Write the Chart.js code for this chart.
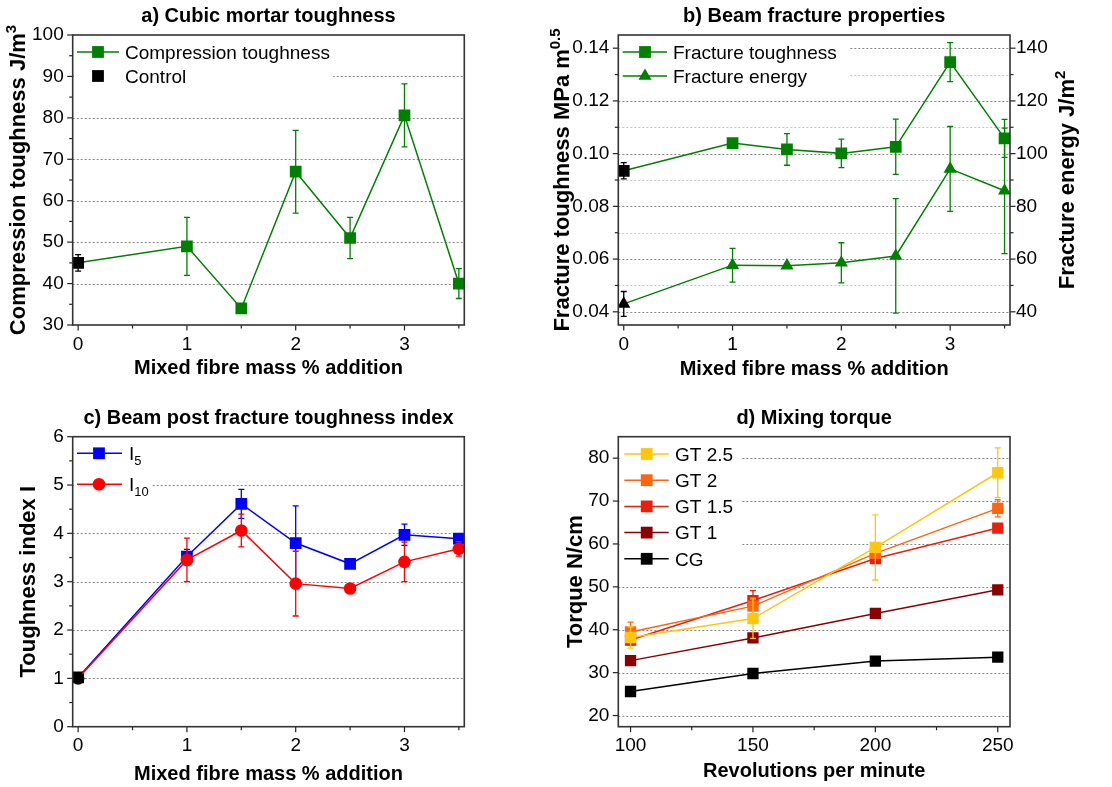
<!DOCTYPE html>
<html>
<head>
<meta charset="utf-8">
<script src="https://cdn.jsdelivr.net/npm/chart.js@4/dist/chart.umd.min.js"></script>
<style>
  body { margin: 0; background: #fff; }
  canvas { position: absolute; left: 0; top: 0; }
</style>
</head>
<body>
<canvas id="chartA" width="1112" height="787"></canvas>
<canvas id="chartB" width="1112" height="787"></canvas>
<canvas id="chartC" width="1112" height="787"></canvas>
<canvas id="chartD" width="1112" height="787"></canvas>
<script>
// ---- data ----
const fibreX = [0, 1, 1.5, 2, 2.5, 3, 3.5]; // mixed fibre mass %, 0 = control

// a) cubic mortar
const compToughness = [45, 49, 34, 67, 51, 80.6, 40];
const compErr = [2, 7, 0, 10, 5, 7.6, 3.6];

// b) beam fracture
const fracToughness = [0.0935, 0.104, 0.1016, 0.1001, 0.1026, 0.1347, 0.1058];
const fracToughErr = [0.0031, 0, 0.006, 0.0054, 0.0105, 0.0074, 0.0072];
const fracEnergy = [43, 57.7, 57.5, 58.6, 61.2, 94.2, 85.9];
const fracEnergyErr = [4.7, 6.4, 0, 7.6, 21.7, 16.1, 23.8];

// c) toughness index
const indexI5 = [1.02, 3.52, 4.61, 3.8, 3.37, 3.97, 3.89];
const indexI5Err = [0.05, 0.15, 0.3, 0.77, 0.07, 0.22, 0.1];
const indexI10 = [1.0, 3.45, 4.06, 2.96, 2.86, 3.41, 3.68];
const indexI10Err = [0.05, 0.45, 0.34, 0.67, 0.1, 0.41, 0.15];

// d) mixing torque
const rpm = [100, 150, 200, 250];
const torqueGT25 = [38.2, 42.6, 59.2, 76.6];
const torqueGT25Err = [2.5, 4.6, 7.6, 5.8];
const torqueGT2 = [39.5, 45.5, 57.8, 68.3];
const torqueGT2Err = [2.3, 2, 1, 2];
const torqueGT15 = [37.6, 46.8, 56.6, 63.7];
const torqueGT15Err = [1.2, 2.3, 1, 0.6];
const torqueGT1 = [32.8, 38.1, 43.8, 49.3];
const torqueGT1Err = [0.8, 0.8, 0.5, 0.5];
const torqueCG = [25.6, 29.8, 32.7, 33.6];
const torqueCGErr = [0, 0, 0, 0];

// ticks
const fibreTicks = [0, 1, 2, 3];
const fibreMinor = [0.5, 1.5, 2.5, 3.5];
const aTicks = [30, 40, 50, 60, 70, 80, 90, 100];
const aMinor = [35, 45, 55, 65, 75, 85, 95];
const bTicks = [0.04, 0.06, 0.08, 0.10, 0.12, 0.14];
const bMinor = [0.05, 0.07, 0.09, 0.11, 0.13];
const bRightTicks = [40, 60, 80, 100, 120, 140];
const bRightMinor = [50, 70, 90, 110, 130];
const cTicks = [0, 1, 2, 3, 4, 5, 6];
const cMinor = [0.5, 1.5, 2.5, 3.5, 4.5, 5.5];
const dTicks = [20, 30, 40, 50, 60, 70, 80];
const rpmTicks = [100, 150, 200, 250];
const rpmMinor = [125, 175, 225];

const FONT = '"Liberation Sans", Arial, sans-serif';
const GREEN = '#008000';
const GRID = '#8a8a8a';
const GRID_LIGHT = '#c4c4c4';
const TRI_R = 7.6;

const pts = (xs, ys) => xs.map((x, i) => ({x: x, y: ys[i]}));
const firstBlack = (n, c) => Array.from({length: n}, (_, i) => i === 0 ? '#000' : c);

// ---- drawing helpers ----
function drawRich(ctx, segs, x, y, size, bold, align) {
  const f = s => (bold ? 'bold ' : '') + s + 'px ' + FONT;
  let w = 0;
  segs.forEach(s => { ctx.font = f(s[1] ? size * 0.68 : size); w += ctx.measureText(s[0]).width; });
  let cx = align === 'left' ? x : x - w / 2;
  ctx.textAlign = 'left';
  ctx.textBaseline = 'alphabetic';
  ctx.fillStyle = '#000';
  segs.forEach(s => {
    const sz = s[1] ? size * 0.68 : size;
    ctx.font = f(sz);
    let dy = size * 0.36;
    if (s[1] === 'sup') dy -= size * 0.42;
    if (s[1] === 'sub') dy += size * 0.25;
    ctx.fillText(s[0], cx, y + dy);
    cx += ctx.measureText(s[0]).width;
  });
}

function marker(ctx, style, x, y, color) {
  ctx.fillStyle = color;
  ctx.beginPath();
  if (style === 'rect') {
    ctx.rect(x - 5.9, y - 5.9, 11.8, 11.8);
  } else if (style === 'circle') {
    ctx.arc(x, y, 6.3, 0, Math.PI * 2);
  } else if (style === 'triangle') {
    const r = TRI_R;
    ctx.moveTo(x, y - r);
    ctx.lineTo(x + r * Math.sin(Math.PI * 2 / 3), y - r * Math.cos(Math.PI * 2 / 3));
    ctx.lineTo(x + r * Math.sin(Math.PI * 4 / 3), y - r * Math.cos(Math.PI * 4 / 3));
    ctx.closePath();
  }
  ctx.fill();
}

// per-canvas decoration settings (titles, legend, grid, tick marks)
const decor = {};

const decorPlugin = {
  id: 'decor',
  beforeDatasetsDraw(chart) {
    const o = decor[chart.canvas.id], ctx = chart.ctx, a = chart.chartArea;
    ctx.save();
    ctx.lineWidth = 1;
    ctx.setLineDash([2, 2]);
    o.grid.forEach(g => {
      const s = chart.scales[g.axis];
      ctx.strokeStyle = g.color;
      g.values.forEach(v => {
        const y = Math.round(s.getPixelForValue(v)) + 0.5;
        ctx.beginPath(); ctx.moveTo(a.left, y); ctx.lineTo(a.right, y); ctx.stroke();
      });
    });
    ctx.setLineDash([]);
    const L = o.legend;
    ctx.fillStyle = '#fff';
    ctx.fillRect(L.box[0], L.box[1], L.box[2] - L.box[0], L.box[3] - L.box[1]);
    L.items.forEach((it, i) => {
      const y = L.y + i * L.dy;
      if (it.line) {
        ctx.strokeStyle = it.color; ctx.lineWidth = 1.5;
        ctx.beginPath(); ctx.moveTo(L.x0, y); ctx.lineTo(L.x1, y); ctx.stroke();
      }
      marker(ctx, it.style, L.mx, y, it.color);
      drawRich(ctx, it.label, L.tx, y, 19, false, 'left');
    });
    ctx.restore();
  },
  beforeDatasetDraw(chart, args) {
    const ds = chart.data.datasets[args.index];
    if (!ds.errors) return;
    const ctx = chart.ctx, ys = chart.scales[args.meta.yAxisID];
    ctx.save();
    ctx.lineWidth = 1.3;
    args.meta.data.forEach((pt, i) => {
      const e = ds.errors[i];
      if (!e) return;
      const v = ds.data[i].y;
      const y0 = ys.getPixelForValue(v - e), y1 = ys.getPixelForValue(v + e);
      ctx.strokeStyle = ds.errColors ? ds.errColors[i] : ds.borderColor;
      ctx.beginPath();
      ctx.moveTo(pt.x, y0); ctx.lineTo(pt.x, y1);
      ctx.moveTo(pt.x - 3, y0); ctx.lineTo(pt.x + 3, y0);
      ctx.moveTo(pt.x - 3, y1); ctx.lineTo(pt.x + 3, y1);
      ctx.stroke();
    });
    ctx.restore();
  },
  afterDraw(chart) {
    const o = decor[chart.canvas.id], ctx = chart.ctx, a = chart.chartArea;
    ctx.save();
    // tick marks
    ctx.strokeStyle = '#222';
    ctx.lineWidth = 1.2;
    o.marks.forEach(m => {
      const s = chart.scales[m.axis];
      [[m.major, 5.5], [m.minor, 3.5]].forEach(([vals, len]) => {
        vals.forEach(v => {
          const p = s.getPixelForValue(v);
          ctx.beginPath();
          if (m.side === 'bottom') { ctx.moveTo(p, a.bottom); ctx.lineTo(p, a.bottom + len); }
          if (m.side === 'left') { ctx.moveTo(a.left, p); ctx.lineTo(a.left - len, p); }
          if (m.side === 'right') { ctx.moveTo(a.right, p); ctx.lineTo(a.right + len, p); }
          ctx.stroke();
        });
      });
    });
    // frame
    ctx.strokeStyle = '#333';
    ctx.lineWidth = 1.6;
    ctx.strokeRect(a.left, a.top, a.right - a.left, a.bottom - a.top);
    // titles
    const cx = (a.left + a.right) / 2, cy = (a.top + a.bottom) / 2;
    drawRich(ctx, [[o.title]], cx, o.titleY, 20, true);
    drawRich(ctx, [[o.xTitle]], cx, o.xTitleY, 20, true);
    o.yTitles.forEach(t => {
      ctx.save();
      ctx.translate(t.x, cy);
      ctx.rotate(-Math.PI / 2);
      drawRich(ctx, t.segs, 0, 0, 22, true);
      ctx.restore();
    });
    ctx.restore();
  }
};

function axis(pos, min, max, majors, size, pad, fmt) {
  return {
    type: 'linear',
    position: pos,
    min: min,
    max: max,
    afterBuildTicks: s => { s.ticks = majors.map(v => ({value: v})); },
    afterFit: s => { if (pos === 'bottom') s.height = size; else s.width = size; },
    grid: {display: false, drawTicks: false},
    border: {display: false},
    ticks: {
      autoSkip: false, maxRotation: 0, padding: pad, color: '#000',
      font: {family: FONT, size: 19},
      callback: fmt || (v => v)
    }
  };
}

function series(label, xs, ys, errs, color, style, radius, blackFirst, axisId) {
  const n = xs.length;
  return {
    label: label,
    data: pts(xs, ys),
    errors: errs,
    errColors: blackFirst ? firstBlack(n, color) : null,
    borderColor: color,
    borderWidth: 1.5,
    pointStyle: style,
    pointRadius: radius,
    pointBorderWidth: 0,
    pointBackgroundColor: blackFirst ? firstBlack(n, color) : color,
    pointBorderColor: blackFirst ? firstBlack(n, color) : color,
    tension: 0,
    yAxisID: axisId || 'y'
  };
}

function baseOptions(padding, scales) {
  return {
    responsive: false,
    animation: false,
    devicePixelRatio: 1,
    layout: {padding: padding},
    plugins: {legend: {display: false}, tooltip: {enabled: false}, title: {display: false}},
    scales: scales
  };
}

// ---- a) Cubic mortar toughness ----
decor.chartA = {
  title: 'a) Cubic mortar toughness', titleY: 15,
  xTitle: 'Mixed fibre mass % addition', xTitleY: 367,
  yTitles: [{x: 17, segs: [['Compression toughness J/m'], ['3', 'sup']]}],
  grid: [{axis: 'y', color: GRID, values: aTicks.slice(1, -1)}],
  marks: [
    {axis: 'x', side: 'bottom', major: fibreTicks, minor: fibreMinor},
    {axis: 'y', side: 'left', major: aTicks, minor: aMinor}
  ],
  legend: {
    box: [74, 36.5, 333, 89], x0: 77, x1: 119, mx: 98, tx: 125, y: 52, dy: 24,
    items: [
      {label: [['Compression toughness']], color: GREEN, style: 'rect', line: true},
      {label: [['Control']], color: '#000', style: 'rect', line: false}
    ]
  }
};
new Chart(document.getElementById('chartA'), {
  type: 'line',
  data: {datasets: [series('Compression toughness', fibreX, compToughness, compErr, GREEN, 'rect', 8.3, true)]},
  options: baseOptions({left: 22.7, right: 647.7, top: 35, bottom: 422}, {
    x: axis('bottom', -0.05, 3.55, fibreTicks, 40, 8),
    y: axis('left', 30, 100, aTicks, 50, 9)
  }),
  plugins: [decorPlugin]
});

// ---- b) Beam fracture properties ----
decor.chartB = {
  title: 'b) Beam fracture properties', titleY: 15,
  xTitle: 'Mixed fibre mass % addition', xTitleY: 368,
  yTitles: [
    {x: 561, segs: [['Fracture toughness MPa m'], ['0.5', 'sup']]},
    {x: 1066, segs: [['Fracture energy J/m'], ['2', 'sup']]}
  ],
  grid: [
    {axis: 'y', color: GRID_LIGHT, values: bMinor},
    {axis: 'y', color: GRID, values: bTicks}
  ],
  marks: [
    {axis: 'x', side: 'bottom', major: fibreTicks, minor: fibreMinor},
    {axis: 'y', side: 'left', major: bTicks, minor: bMinor},
    {axis: 'y1', side: 'right', major: bRightTicks, minor: bRightMinor}
  ],
  legend: {
    box: [619.5, 36.5, 849, 90], x0: 622.7, x1: 667, mx: 645, tx: 673, y: 52, dy: 24,
    items: [
      {label: [['Fracture toughness']], color: GREEN, style: 'rect', line: true},
      {label: [['Fracture energy']], color: GREEN, style: 'triangle', line: true}
    ]
  }
};
new Chart(document.getElementById('chartB'), {
  type: 'line',
  data: {datasets: [
    series('Fracture toughness', fibreX, fracToughness, fracToughErr, GREEN, 'rect', 8.3, true, 'y'),
    series('Fracture energy', fibreX, fracEnergy, fracEnergyErr, GREEN, 'triangle', TRI_R, true, 'y1')
  ]},
  options: baseOptions({left: 568.3, right: 52, top: 35, bottom: 422}, {
    x: axis('bottom', -0.05, 3.55, fibreTicks, 40, 8),
    y: axis('left', 0.035, 0.145, bTicks, 50, 9, v => v.toFixed(2)),
    y1: axis('right', 35, 145, bRightTicks, 50, 6)
  }),
  plugins: [decorPlugin]
});

// ---- c) Beam post fracture toughness index ----
decor.chartC = {
  title: 'c) Beam post fracture toughness index', titleY: 417,
  xTitle: 'Mixed fibre mass % addition', xTitleY: 773,
  yTitles: [{x: 27, segs: [['Toughness index I']]}],
  grid: [{axis: 'y', color: GRID, values: cTicks.slice(1, -1)}],
  marks: [
    {axis: 'x', side: 'bottom', major: fibreTicks, minor: fibreMinor},
    {axis: 'y', side: 'left', major: cTicks, minor: cMinor}
  ],
  legend: {
    box: [74, 438, 152, 500], x0: 77, x1: 122, mx: 99, tx: 129, y: 453.3, dy: 31,
    items: [
      {label: [['I'], ['5', 'sub']], color: '#0000ff', style: 'rect', line: true},
      {label: [['I'], ['10', 'sub']], color: '#ff0000', style: 'circle', line: true}
    ]
  }
};
new Chart(document.getElementById('chartC'), {
  type: 'line',
  data: {datasets: [
    series('I10', fibreX, indexI10, indexI10Err, '#ff0000', 'circle', 6.3, true),
    series('I5', fibreX, indexI5, indexI5Err, '#0000ff', 'rect', 8.3, true)
  ]},
  options: baseOptions({left: 22.7, right: 647.7, top: 436.7, bottom: 20.3}, {
    x: axis('bottom', -0.05, 3.55, fibreTicks, 40, 8),
    y: axis('left', 0, 6, cTicks, 50, 9)
  }),
  plugins: [decorPlugin]
});

// ---- d) Mixing torque ----
const dColors = {gt25: '#ffc60b', gt2: '#ff6410', gt15: '#e8200c', gt1: '#8b0000', cg: '#000000'};
decor.chartD = {
  title: 'd) Mixing torque', titleY: 417,
  xTitle: 'Revolutions per minute', xTitleY: 770,
  yTitles: [{x: 574, segs: [['Torque N/cm']]}],
  grid: [{axis: 'y', color: GRID, values: dTicks}],
  marks: [
    {axis: 'x', side: 'bottom', major: rpmTicks, minor: rpmMinor},
    {axis: 'y', side: 'left', major: dTicks, minor: []}
  ],
  legend: {
    box: [619.5, 438, 741, 575], x0: 624.3, x1: 668.7, mx: 646.7, tx: 675, y: 454, dy: 26.2,
    items: [
      {label: [['GT 2.5']], color: dColors.gt25, style: 'rect', line: true},
      {label: [['GT 2']], color: dColors.gt2, style: 'rect', line: true},
      {label: [['GT 1.5']], color: dColors.gt15, style: 'rect', line: true},
      {label: [['GT 1']], color: dColors.gt1, style: 'rect', line: true},
      {label: [['CG']], color: dColors.cg, style: 'rect', line: true}
    ]
  }
};
new Chart(document.getElementById('chartD'), {
  type: 'line',
  data: {datasets: [
    series('GT 2.5', rpm, torqueGT25, torqueGT25Err, dColors.gt25, 'rect', 8, false),
    series('GT 2', rpm, torqueGT2, torqueGT2Err, dColors.gt2, 'rect', 8, false),
    series('GT 1.5', rpm, torqueGT15, torqueGT15Err, dColors.gt15, 'rect', 8, false),
    series('GT 1', rpm, torqueGT1, torqueGT1Err, dColors.gt1, 'rect', 8, false),
    series('CG', rpm, torqueCG, torqueCGErr, dColors.cg, 'rect', 8, false)
  ]},
  options: baseOptions({left: 568.3, right: 102, top: 436.7, bottom: 20.3}, {
    x: axis('bottom', 95, 255, rpmTicks, 40, 8),
    y: axis('left', 17.4, 85, dTicks, 50, 9)
  }),
  plugins: [decorPlugin]
});
</script>
</body>
</html>
